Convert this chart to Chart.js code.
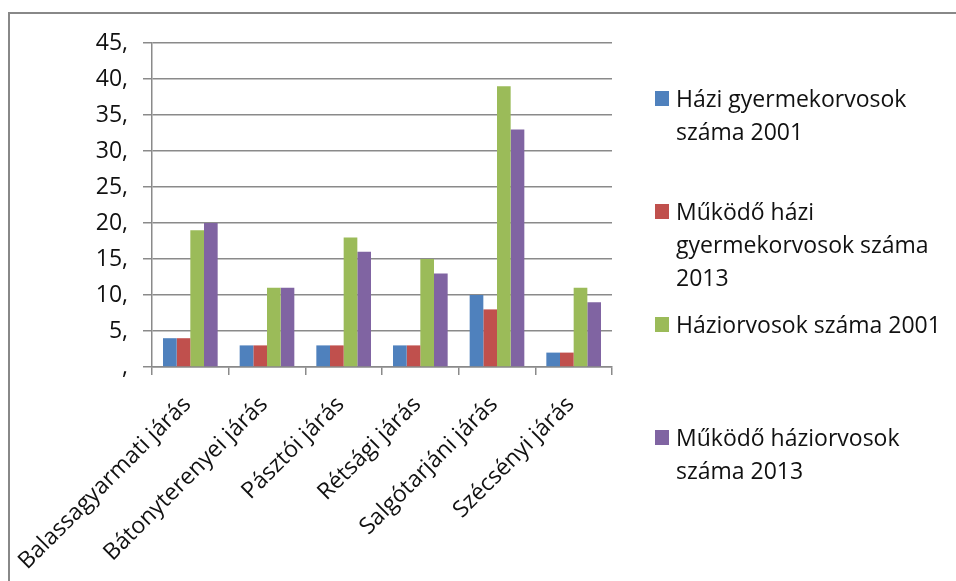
<!DOCTYPE html>
<html>
<head>
<meta charset="utf-8">
<script src="https://cdn.jsdelivr.net/npm/chart.js@4/dist/chart.umd.min.js"></script>
<style>
  html, body { margin: 0; padding: 0; background: #fff; }
  #wrap { position: relative; width: 956px; height: 581px; overflow: hidden; }
  #frame {
    position: absolute; left: 8px; top: 12px; width: 1200px; height: 800px;
    border-left: 2px solid #888; border-top: 2px solid #888;
  }
  canvas { position: absolute; left: 0; top: 0; }
  #legend { position: absolute; left: 655px; top: 82px; font-family: "Open Sans", sans-serif; font-size: 23px; line-height: 33px; color: #111; }
  .item { position: absolute; left: 0; width: 300px; }
  .box { position: absolute; left: 0; top: 9px; width: 14px; height: 15px; }
  .txt { position: absolute; left: 21px; white-space: nowrap; }
</style>
</head>
<body>
<div id="wrap">
  <div id="frame"></div>
  <canvas id="chart" width="956" height="581"></canvas>
  <div id="legend"></div>
</div>
<script>
const categories = [
  'Balassagyarmati járás',
  'Bátonyterenyei járás',
  'Pásztói járás',
  'Rétsági járás',
  'Salgótarjáni járás',
  'Szécsényi járás'
];

// legend names, split the way the picture wraps them
const seriesNames = [
  ['Házi gyermekorvosok', 'száma 2001'],
  ['Működő házi', 'gyermekorvosok száma', '2013'],
  ['Háziorvosok száma 2001'],
  ['Működő háziorvosok', 'száma 2013']
];

const gyermek2001 = [4, 3, 3, 3, 10, 2];
const gyermek2013 = [4, 3, 3, 3, 8, 2];
const haziorvos2001 = [19, 11, 18, 15, 39, 11];
const haziorvos2013 = [20, 11, 16, 13, 33, 9];

const yTicks = [0, 5, 10, 15, 20, 25, 30, 35, 40, 45];

const colors = ['#4F81BD', '#C0504D', '#9BBB59', '#8064A2'];
const gridColor = '#8a8a8a';
const font = { family: '"Open Sans", sans-serif', size: 23 };

const seriesValues = [gyermek2001, gyermek2013, haziorvos2001, haziorvos2013];

const chart = new Chart(document.getElementById('chart'), {
  type: 'bar',
  data: {
    labels: categories,
    datasets: seriesValues.map((vals, i) => ({
      label: seriesNames[i].join(' '),
      data: vals,
      backgroundColor: colors[i],
      borderWidth: 0,
      categoryPercentage: 0.713,
      barPercentage: 1.0
    }))
  },
  options: {
    responsive: false,
    animation: false,
    layout: { padding: { left: 0, top: 43, right: 344, bottom: 0 } },
    plugins: {
      legend: { display: false },
      tooltip: { enabled: false }
    },
    scales: {
      x: {
        grid: {
          display: true,
          drawOnChartArea: false,
          drawTicks: true,
          tickLength: 8,
          color: gridColor,
          lineWidth: 1.5
        },
        border: { display: true, color: gridColor, width: 1.5 },
        ticks: {
          autoSkip: false,
          minRotation: 45,
          maxRotation: 45,
          padding: 16,
          labelOffset: -3,
          color: '#111',
          font: font
        },
        afterFit: (scale) => {
          scale.height = 214;
          // long rotated labels must not push the plot area to the right
          scale.paddingLeft = 0;
          scale.paddingRight = 0;
        }
      },
      y: {
        min: 0,
        max: 45,
        afterBuildTicks: (scale) => { scale.ticks = yTicks.map(v => ({ value: v })); },
        grid: {
          color: gridColor,
          lineWidth: 1.5,
          drawTicks: true,
          tickLength: 9
        },
        border: { display: true, color: gridColor, width: 1.5 },
        ticks: {
          padding: 15,
          color: '#111',
          font: font,
          callback: (v) => (v === 0 ? ',' : v + ',')
        },
        afterFit: (scale) => { scale.width = 152; }
      }
    }
  }
});

// legend on the right, built from the dataset names and colours
const legend = document.getElementById('legend');
const rowStep = 113;
seriesNames.forEach((lines, i) => {
  const item = document.createElement('div');
  item.className = 'item';
  item.style.top = (i * rowStep) + 'px';
  const box = document.createElement('div');
  box.className = 'box';
  box.style.background = colors[i];
  const txt = document.createElement('div');
  txt.className = 'txt';
  txt.innerHTML = lines.join('<br>');
  item.appendChild(box);
  item.appendChild(txt);
  legend.appendChild(item);
});
</script>
</body>
</html>
